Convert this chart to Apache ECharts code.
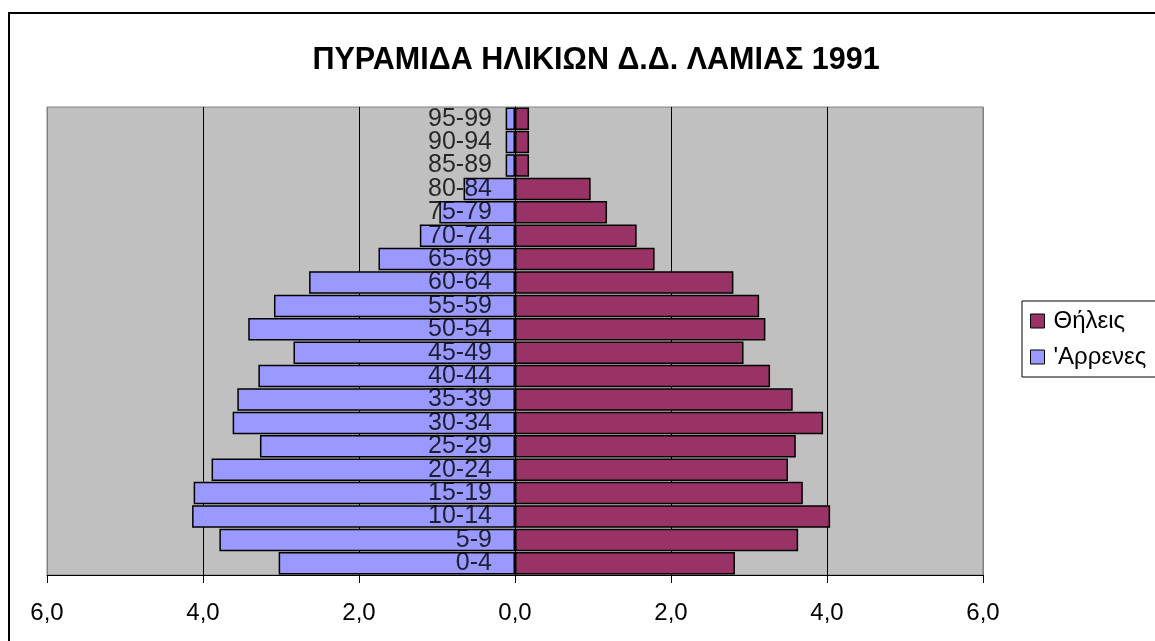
<!DOCTYPE html>
<html>
<head>
<meta charset="utf-8">
<script src="https://cdn.jsdelivr.net/npm/echarts@6/dist/echarts.min.js"></script>
<style>
  html, body { margin: 0; padding: 0; background: #fff; }
  #chart { width: 1155px; height: 641px; }
</style>
</head>
<body>
<div id="chart"></div>
<script>
// age groups, bottom to top
const ageGroups = ['0-4', '5-9', '10-14', '15-19', '20-24', '25-29', '30-34', '35-39', '40-44', '45-49',
  '50-54', '55-59', '60-64', '65-69', '70-74', '75-79', '80-84', '85-89', '90-94', '95-99']
// percentages
const males = [3.03, 3.79, 4.14, 4.12, 3.89, 3.27, 3.62, 3.56, 3.29, 2.84,
  3.42, 3.09, 2.64, 1.75, 1.22, 0.97, 0.66, 0.12, 0.12, 0.12]
const females = [2.82, 3.63, 4.04, 3.69, 3.50, 3.60, 3.95, 3.56, 3.27, 2.93,
  3.21, 3.13, 2.80, 1.79, 1.56, 1.18, 0.97, 0.18, 0.18, 0.18]
const xTicks = [-6, -4, -2, 0, 2, 4, 6]

const font = "'Liberation Sans', Arial, sans-serif"
const chart = echarts.init(document.getElementById('chart'))

const option = {
  animation: false,
  textStyle: { fontFamily: font },
  title: {
    text: 'ΠΥΡΑΜΙΔΑ ΗΛΙΚΙΩΝ Δ.Δ. ΛΑΜΙΑΣ 1991',
    left: 591,
    textAlign: 'center',
    top: 40,
    textStyle: { fontFamily: font, fontSize: 30.5, fontWeight: 'bold', color: '#000' }
  },
  legend: {
    data: ['Θήλεις', "'Αρρενες"],
    orient: 'vertical',
    left: 1022,
    top: 301,
    backgroundColor: '#fff',
    borderColor: '#000',
    borderWidth: 1,
    borderRadius: 0,
    padding: [8, 20, 8, 8],
    itemGap: 12,
    itemWidth: 14,
    itemHeight: 14,
    icon: 'rect',
    itemStyle: { borderColor: '#000', borderWidth: 1 },
    textStyle: { fontFamily: font, fontSize: 24, color: '#000', padding: [0, 0, 0, 4] }
  },
  grid: {
    left: 47,
    right: 172,
    top: 107,
    bottom: 66,
    containLabel: false,
    outerBoundsMode: 'none',
    show: true,
    backgroundColor: '#C0C0C0',
    borderColor: '#808080',
    borderWidth: 1
  },
  xAxis: {
    type: 'value',
    min: xTicks[0],
    max: xTicks[xTicks.length - 1],
    interval: 2,
    axisLine: { show: true, lineStyle: { color: '#000', width: 1 } },
    axisTick: { show: true, length: 8, lineStyle: { color: '#000' } },
    axisLabel: {
      fontFamily: font,
      fontSize: 24,
      color: '#000',
      margin: 26,
      formatter: v => Math.abs(v).toFixed(1).replace('.', ',')
    },
    splitLine: {
      show: true,
      lineStyle: { color: ['#808080', '#000', '#000', '#000', '#000', '#000', '#808080'], width: 1 }
    }
  },
  yAxis: {
    type: 'category',
    data: ageGroups,
    axisLine: { show: true, onZero: true, lineStyle: { color: '#000' } },
    axisTick: { show: false },
    axisLabel: { show: false }
  },
  series: [
    {
      name: 'Θήλεις',
      type: 'bar',
      stack: 'pyramid',
      data: females,
      barCategoryGap: '4%',
      itemStyle: { color: '#993366', borderColor: '#000', borderWidth: 1.5 }
    },
    {
      name: "'Αρρενες",
      type: 'bar',
      stack: 'pyramid',
      data: males.map(v => -v),
      barCategoryGap: '4%',
      itemStyle: { color: '#9999FF', borderColor: '#000', borderWidth: 1.5 }
    },
    {
      // age group labels drawn along the zero line, over the bars
      name: 'labels',
      type: 'scatter',
      data: ageGroups.map(g => [0, g]),
      symbolSize: 0,
      z: 10,
      silent: true,
      label: {
        show: true,
        position: 'left',
        distance: 23,
        formatter: p => p.value[1],
        fontFamily: font,
        fontSize: 25,
        color: '#000'
      }
    }
  ],
  graphic: [{
    type: 'rect',
    shape: { x: 9, y: 13, width: 1160, height: 640 },
    style: { fill: 'none', stroke: '#000', lineWidth: 2 },
    silent: true
  }]
}

chart.setOption(option)
window.addEventListener('resize', () => chart.resize())
</script>
</body>
</html>
